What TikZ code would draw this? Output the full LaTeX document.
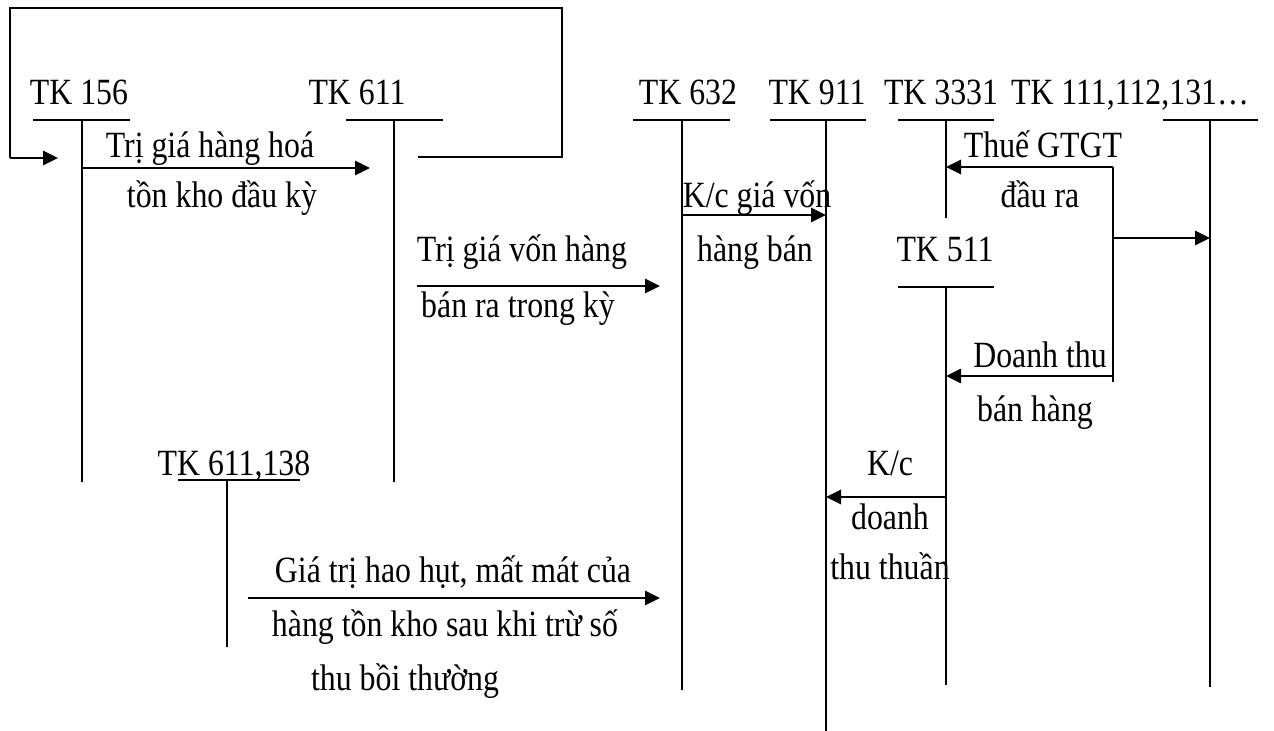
\documentclass[tikz,border=0pt]{standalone}
\usepackage{fontspec}
\setmainfont{Liberation Serif}[FakeStretch=0.86]
\usepackage{tikz}
\usetikzlibrary{arrows.meta}

\begin{document}
\begin{tikzpicture}[x=0.5pt,y=-0.5pt,
    acc/.style={font=\fontsize{18.5}{21}\selectfont,inner sep=0pt,anchor=base},
    txt/.style={font=\fontsize{18.5}{21}\selectfont,inner sep=0pt,anchor=base},
    tline/.style={line width=1pt},
    flow/.style={line width=1.4pt,-{Triangle[length=7.5pt,width=7pt]}}]
\useasboundingbox (0,0) rectangle (1274,731);

% T accounts: name/label/label x/label base/bar left/bar right/bar y/stem x/stem end
\foreach \n/\t/\lx/\ly/\bl/\br/\by/\vx/\ye in {
  a156/TK 156/79/105/33/130/120/82/482,
  a611/TK 611/357/105/346/443/120/394/482,
  a632/TK 632/688/105/633/730/120/682/690,
  a911/TK 911/817/105/770/866/120/826/732,
  a3331/TK 3331/941/105/898/994/120/946/218,
  a111/{TK 111,112,131…}/1130/105/1163/1258/120/1210/687,
  a511/TK 511/945/262/898/994/287/946/685,
  a138/{TK 611,138}/234/476/178/300/480/227/647}
{
  \node[acc] (\n) at (\lx,\ly) {\t};
  \coordinate (\n-l) at (\bl,\by);
  \coordinate (\n-r) at (\br,\by);
  \coordinate (\n-b) at (\vx,\ye);
  \draw[tline] (\n-l) -- (\n-r) (\vx,\by) -- (\n-b);
}

% end points of the entries
\coordinate (p1s) at (82,168);   \coordinate (p1e) at (370,168);
\coordinate (p2s) at (417,286);  \coordinate (p2e) at (660,286);
\coordinate (p3s) at (682,215);  \coordinate (p3e) at (826,215);
\coordinate (p4s) at (1113,167); \coordinate (p4e) at (946,167);
\coordinate (p5s) at (1113,238); \coordinate (p5e) at (1210,238);
\coordinate (p6s) at (1113,376); \coordinate (p6e) at (946,376);
\coordinate (p7s) at (946,497);  \coordinate (p7e) at (826,497);
\coordinate (p8s) at (248,598);  \coordinate (p8e) at (660,598);
\coordinate (p9e) at (1113,382);

% closing balance back to TK 156
\coordinate (r1) at (418,157);
\coordinate (r2) at (562,157);
\coordinate (r3) at (562,8);
\coordinate (r4) at (10,8);
\coordinate (r5) at (10,158);
\coordinate (r6) at (58,158);
\draw[tline] (r1) -- (r2) -- (r3) -- (r4) -- (r5);
\draw[flow] (r5) -- (r6);

\foreach \k in {1,...,8}
  \draw[flow] (p\k s) -- (p\k e);
\draw[tline] (p4s) -- (p9e);

% entry texts
\node[txt] (t1a) at (210,158) {Trị giá hàng hoá};
\node[txt] (t1b) at (222,208) {tồn kho đầu kỳ};
\node[txt] (t2a) at (522,262) {Trị giá vốn hàng};
\node[txt] (t2b) at (518,318) {bán ra trong kỳ};
\node[txt] (t3a) at (757,208) {K/c giá vốn};
\node[txt] (t3b) at (755,262) {hàng bán};
\node[txt] (t4a) at (1043,158) {Thuế GTGT};
\node[txt] (t4b) at (1040,208) {đầu ra};
\node[txt] (t6a) at (1040,368) {Doanh thu};
\node[txt] (t6b) at (1035,422) {bán hàng};
\node[txt] (t7a) at (890,476) {K/c};
\node[txt] (t7b) at (890,530) {doanh};
\node[txt] (t7c) at (890,580) {thu thuần};
\node[txt] (t8a) at (453,582) {Giá trị hao hụt, mất mát của};
\node[txt] (t8b) at (445,636) {hàng tồn kho sau khi trừ số};
\node[txt] (t8c) at (405,690) {thu bồi thường};
\end{tikzpicture}
\end{document}
